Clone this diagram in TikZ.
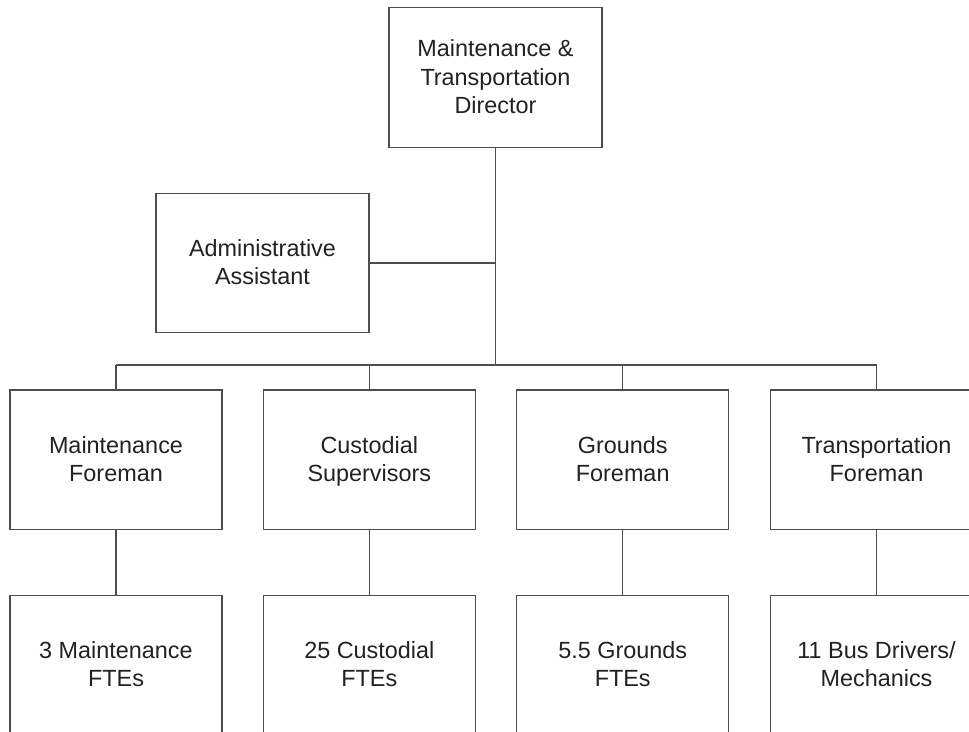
\documentclass[tikz,border=0pt]{standalone}
\usepackage{fontspec}
\setmainfont{Liberation Sans}
\begin{document}
\begin{tikzpicture}[x=1pt,y=1pt,
  orgbox/.style={draw=linegray, line width=1.2pt, fill=white, text=textgray,
    minimum width=212pt, minimum height=139.5pt, inner sep=0pt, align=center,
    font=\fontsize{23.4}{28.5}\selectfont,
    execute at begin node=\strut, execute at end node=\strut,
    text depth=1.5pt},
  link/.style={draw=linegray, line width=1.2pt}]
\definecolor{linegray}{HTML}{4D4D4D}
\definecolor{textgray}{HTML}{222222}
\useasboundingbox (0,0) rectangle (969,-731);
\clip (0,0) rectangle (969,-731);
\fill[white] (0,0) rectangle (969,-731);

% top and staff positions
\node[orgbox, minimum width=213pt] (dir) at (495.5,-77.5) {Maintenance \&\\Transportation\\Director};
\node[orgbox, minimum width=213pt] (admin) at (262.5,-263) {Administrative\\Assistant};

% first level
\node[orgbox] (m1) at (116,-459.7) {Maintenance\\Foreman};
\node[orgbox] (m2) at (369.3,-459.7) {Custodial\\Supervisors};
\node[orgbox] (m3) at (622.7,-459.7) {Grounds\\Foreman};
\node[orgbox] (m4) at (876.5,-459.7) {Transportation\\Foreman};

% staff counts
\node[orgbox] (f1) at (116,-665) {3 Maintenance\\FTEs};
\node[orgbox] (f2) at (369.3,-665) {25 Custodial\\FTEs};
\node[orgbox] (f3) at (622.7,-665) {5.5 Grounds\\FTEs};
\node[orgbox] (f4) at (876.5,-665) {11 Bus Drivers/\\Mechanics};

\coordinate (bus) at (0,-365);

% connectors
\draw[link] (dir.south) -- (dir.south |- bus);
\draw[link] (admin.east) -- (admin.east -| dir.south);
\draw[link] (m1.north |- bus) -- (m4.north |- bus);
\foreach \i in {1,2,3,4} {
  \draw[link] (m\i.north) -- (m\i.north |- bus);
  \draw[link] (m\i.south) -- (f\i.north);
}
\end{tikzpicture}
\end{document}
